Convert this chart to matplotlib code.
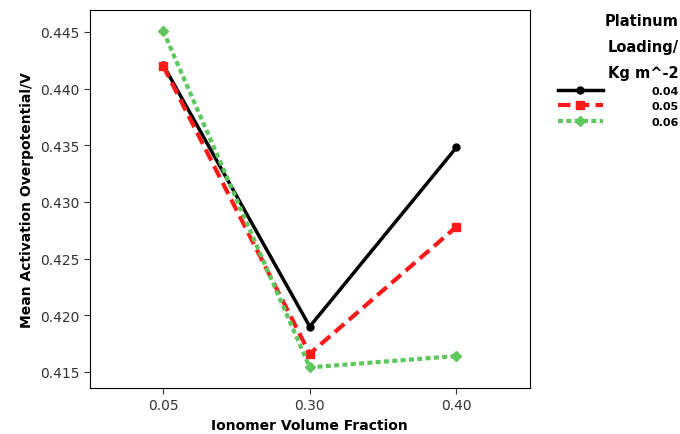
import numpy as np
import matplotlib.pyplot as plt

categories = ["0.05", "0.30", "0.40"]
loading_004 = [0.4421, 0.4190, 0.4348]
loading_005 = [0.4420, 0.4166, 0.4278]
loading_006 = [0.4451, 0.4154, 0.4164]
series_names = ["0.04", "0.05", "0.06"]

fig = plt.figure(figsize=(6.8, 4.35), dpi=100)
ax = fig.add_axes([0.132, 0.106, 0.647, 0.869])

x = np.arange(len(categories))
h1, = ax.plot(x, loading_004, color="black", lw=2.5, ls="-", marker="o", ms=5)
h2, = ax.plot(x, loading_005, color="#ff1a1a", lw=3, ls=(0, (3, 1.5)), marker="s", ms=6)
h3, = ax.plot(x, loading_006, color="#5dc85d", lw=3, ls=(0, (1.2, 0.8)), marker="D", ms=5)

ax.set_xlim(-0.5, 2.5)
ax.set_ylim(0.41359, 0.44694)
ax.set_xticks(x)
ax.set_xticklabels(categories)
ax.set_yticks([0.415, 0.420, 0.425, 0.430, 0.435, 0.440, 0.445])
ax.yaxis.set_major_formatter(plt.FormatStrFormatter("%.3f"))
ax.tick_params(labelsize=10, colors="#333333", length=4)
ax.set_xlabel("Ionomer Volume Fraction", fontsize=10, fontweight="bold")
ax.set_ylabel("Mean Activation Overpotential/V", fontsize=10, fontweight="bold")

leg = fig.legend([h1, h2, h3], series_names, loc="upper right", bbox_to_anchor=(1.013, 0.99),
                 frameon=False, title="Platinum\nLoading/\nKg m^-2", handlelength=4.0,
                 handletextpad=4.4, labelspacing=0.5, prop={"weight": "bold", "size": 8},
                 alignment="right")
leg.get_title().set_fontweight("bold")
leg.get_title().set_fontsize(10.5)
leg.get_title().set_ha("right")
leg.get_title().set_linespacing(1.9)

fig.savefig("out.png")
